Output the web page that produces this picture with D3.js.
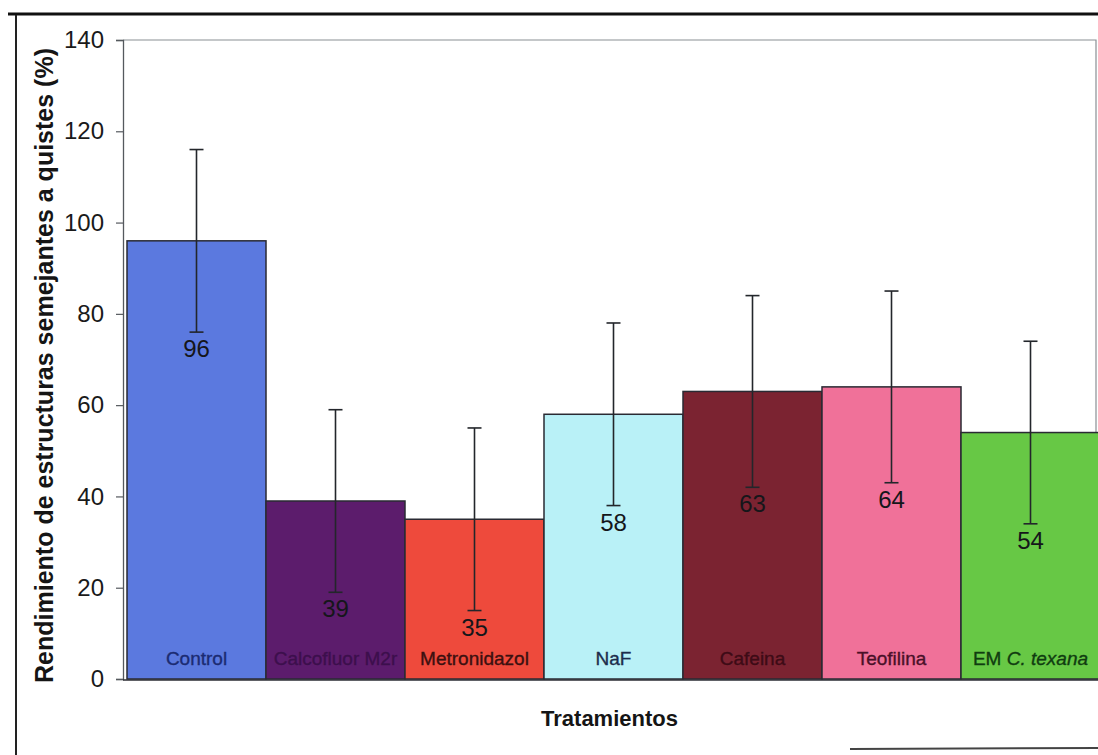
<!DOCTYPE html>
<html lang="es">
<head>
<meta charset="utf-8">
<script src="https://cdn.jsdelivr.net/npm/d3@7/dist/d3.min.js"></script>
<style>
  html, body { margin: 0; padding: 0; background: #fff; }
  svg { display: block; font-family: "Liberation Sans", Arial, sans-serif; }
</style>
</head>
<body>
<svg id="chart" width="1098" height="755"></svg>
<script>
// Tratamientos y rendimiento medio (%) con su desviación
const treatments = ["Control", "Calcofluor M2r", "Metronidazol", "NaF", "Cafeina", "Teofilina", "EM C. texana"];
const means = [96, 39, 35, 58, 63, 64, 54];
const deviations = [20, 20, 20, 20, 21, 21, 20];
const yTicks = [0, 20, 40, 60, 80, 100, 120, 140];
const barColors = ["#5b79df", "#5c1c6c", "#ee4a3c", "#b9f1f7", "#7b2331", "#f07199", "#67c845"];
const labelColors = ["#1b2b72", "#3c0f4c", "#3b1010", "#1c2c4c", "#3d0b16", "#4a1028", "#103c10"];

const svg = d3.select("#chart");

const plot = { left: 123, right: 1096, top: 40, bottom: 679 };

const x = d3.scaleBand()
  .domain(treatments)
  .range([127, 1100])
  .paddingInner(0)
  .paddingOuter(0);

const y = d3.scaleLinear()
  .domain([0, 140])
  .range([plot.bottom, plot.top]);

// Outer frame of the figure
svg.append("line")
  .attr("x1", 8).attr("x2", 1098).attr("y1", 14).attr("y2", 14)
  .attr("stroke", "#111").attr("stroke-width", 3);
svg.append("line")
  .attr("x1", 16).attr("x2", 16).attr("y1", 15).attr("y2", 755)
  .attr("stroke", "#222").attr("stroke-width", 2);
svg.append("line")
  .attr("x1", 850).attr("x2", 1098).attr("y1", 749).attr("y2", 748)
  .attr("stroke", "#444").attr("stroke-width", 2);

// Plot area border (top and right)
svg.append("path")
  .attr("d", `M${plot.left},${plot.top}H${plot.right}V${plot.bottom}`)
  .attr("fill", "none")
  .attr("stroke", "#8a8f94")
  .attr("stroke-width", 1.2);

svg.append("defs").append("clipPath").attr("id", "plotClip")
  .append("rect")
  .attr("x", plot.left).attr("y", 0)
  .attr("width", 1098 - plot.left).attr("height", plot.bottom + 2);

const g = svg.append("g").attr("clip-path", "url(#plotClip)");

// Bars
g.selectAll("rect.bar")
  .data(treatments)
  .join("rect")
  .attr("class", "bar")
  .attr("x", d => x(d))
  .attr("y", (d, i) => y(means[i]))
  .attr("width", x.bandwidth())
  .attr("height", (d, i) => y(0) - y(means[i]))
  .attr("fill", (d, i) => barColors[i])
  .attr("stroke", "#2a2a33")
  .attr("stroke-width", 1.5);

// Error bars
const capHalf = 7;
const err = g.selectAll("g.err")
  .data(treatments)
  .join("g")
  .attr("class", "err")
  .attr("stroke", "#23262b")
  .attr("stroke-width", 1.6);
err.append("line")
  .attr("x1", d => x(d) + x.bandwidth() / 2)
  .attr("x2", d => x(d) + x.bandwidth() / 2)
  .attr("y1", (d, i) => y(means[i] + deviations[i]))
  .attr("y2", (d, i) => y(means[i] - deviations[i]));
err.append("line")
  .attr("x1", d => x(d) + x.bandwidth() / 2 - capHalf)
  .attr("x2", d => x(d) + x.bandwidth() / 2 + capHalf)
  .attr("y1", (d, i) => y(means[i] + deviations[i]))
  .attr("y2", (d, i) => y(means[i] + deviations[i]));
err.append("line")
  .attr("x1", d => x(d) + x.bandwidth() / 2 - capHalf)
  .attr("x2", d => x(d) + x.bandwidth() / 2 + capHalf)
  .attr("y1", (d, i) => y(means[i] - deviations[i]))
  .attr("y2", (d, i) => y(means[i] - deviations[i]));

// Value labels just below the lower whisker
g.selectAll("text.val")
  .data(treatments)
  .join("text")
  .attr("class", "val")
  .attr("x", d => x(d) + x.bandwidth() / 2)
  .attr("y", (d, i) => y(means[i] - deviations[i]) + 25)
  .attr("text-anchor", "middle")
  .attr("font-size", 24)
  .attr("fill", "#15161a")
  .text((d, i) => means[i]);

// Category names inside the bars
const cat = g.selectAll("text.cat")
  .data(treatments)
  .join("text")
  .attr("class", "cat")
  .attr("x", d => x(d) + x.bandwidth() / 2)
  .attr("y", plot.bottom - 14)
  .attr("text-anchor", "middle")
  .attr("font-size", 19)
  .attr("fill", (d, i) => labelColors[i])
  .attr("stroke", (d, i) => labelColors[i])
  .attr("stroke-width", 0.35);
cat.each(function (d) {
  const t = d3.select(this);
  const m = d.match(/^(EM )(C\. texana)$/);
  if (m) {
    t.append("tspan").text(m[1]);
    t.append("tspan").attr("font-style", "italic").text(m[2]);
  } else {
    t.text(d);
  }
});

// Y axis
const yAxis = d3.axisLeft(y)
  .tickValues(yTicks)
  .tickSize(7)
  .tickPadding(12);
const ya = svg.append("g")
  .attr("transform", `translate(${plot.left},0)`)
  .call(yAxis);
ya.select(".domain").attr("stroke", "#55595e").attr("stroke-width", 1.3);
ya.selectAll(".tick line").attr("stroke", "#55595e").attr("stroke-width", 1.2);
ya.selectAll(".tick text")
  .attr("font-size", 24)
  .attr("font-family", "'Liberation Sans', Arial, sans-serif")
  .attr("fill", "#1a1a1a");

// X axis baseline
svg.append("line")
  .attr("x1", plot.left).attr("x2", 1098)
  .attr("y1", plot.bottom + 1).attr("y2", plot.bottom + 1)
  .attr("stroke", "#2b2d33").attr("stroke-width", 1.6);

// Axis titles
svg.append("text")
  .attr("transform", `translate(53,${(plot.top + plot.bottom) / 2 + 6}) rotate(-90)`)
  .attr("text-anchor", "middle")
  .attr("font-size", 25)
  .attr("font-weight", "bold")
  .attr("fill", "#151515")
  .text("Rendimiento de estructuras semejantes a quistes (%)");

svg.append("text")
  .attr("x", (plot.left + plot.right) / 2)
  .attr("y", 726)
  .attr("text-anchor", "middle")
  .attr("font-size", 22)
  .attr("font-weight", "bold")
  .attr("fill", "#151515")
  .text("Tratamientos");
</script>
</body>
</html>
